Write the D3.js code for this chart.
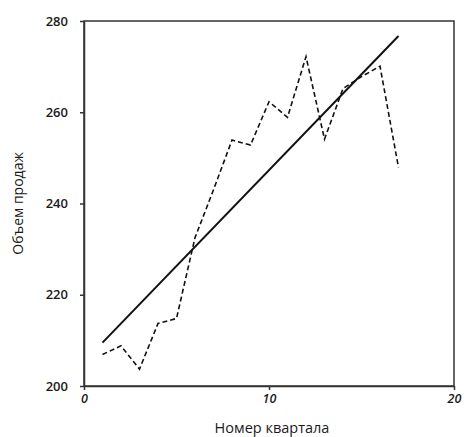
<!DOCTYPE html>
<html>
<head>
<meta charset="utf-8">
<script src="https://cdn.jsdelivr.net/npm/d3@7"></script>
<style>
  body { margin: 0; background: #fff; }
  text { font-family: "Open Sans", sans-serif; fill: #1a1a1a; }
</style>
</head>
<body>
<div id="chart"></div>
<script>
// quarterly sales (dashed) and the linear trend (solid)
var quarters = [1, 2, 3, 4, 5, 6, 7, 8, 9, 10, 11, 12, 13, 14, 15, 16, 17];
var sales = [206.9, 208.8, 203.7, 213.7, 214.8, 232.5, 243, 253.9, 252.8, 262.3, 258.9, 272.2, 254.1, 265.2, 267.8, 270.1, 247.9];
var trendQuarters = [1, 17];
var trendValues = [209.5, 276.7];
var xTicks = [0, 10, 20];
var yTicks = [200, 220, 240, 260, 280];

var margin = {top: 21, right: 10, bottom: 51, left: 84},
    width = 464 - margin.left - margin.right,
    height = 437 - margin.top - margin.bottom;

var svg = d3.select("#chart")
  .append("svg")
    .attr("width", 464)
    .attr("height", 437)
  .append("g")
    .attr("transform", "translate(" + margin.left + "," + margin.top + ")");

var x = d3.scaleLinear().domain([0, 20]).range([0, width]);
var y = d3.scaleLinear().domain([200, 280]).range([height, 0]);

// frame (top and right)
svg.append("rect")
  .attr("x", 0).attr("y", 0)
  .attr("width", width).attr("height", height)
  .attr("fill", "none")
  .attr("stroke", "#333")
  .attr("stroke-width", 1.5);

var xAxis = svg.append("g")
  .attr("transform", "translate(0," + height + ")")
  .call(d3.axisBottom(x).tickValues(xTicks).tickSize(4).tickSizeOuter(0).tickPadding(4));
xAxis.selectAll("text")
  .style("font-size", "12.5px")
  .style("font-weight", "600")
  .style("font-style", "italic");

var yAxis = svg.append("g")
  .call(d3.axisLeft(y).tickValues(yTicks).tickSize(4).tickSizeOuter(0).tickPadding(12));
yAxis.selectAll("text")
  .style("font-size", "13px")
  .style("font-weight", "600");

svg.selectAll(".domain, .tick line")
  .attr("stroke", "#333")
  .attr("stroke-width", 1.5);

// axis titles
svg.append("text")
  .attr("x", width / 2 + 3)
  .attr("y", height + 47)
  .style("text-anchor", "middle")
  .style("font-size", "14.5px")
  .text("Номер квартала");

svg.append("text")
  .attr("transform", "rotate(-90)")
  .attr("x", -height / 2)
  .attr("y", -61)
  .style("text-anchor", "middle")
  .style("font-size", "14px")
  .text("Объем продаж");

var line = d3.line()
  .x(function(d) { return x(d[0]); })
  .y(function(d) { return y(d[1]); });

// trend line
svg.append("path")
  .datum(d3.zip(trendQuarters, trendValues))
  .attr("d", line)
  .attr("fill", "none")
  .attr("stroke", "#111")
  .attr("stroke-width", 2);

// actual sales
svg.append("path")
  .datum(d3.zip(quarters, sales))
  .attr("d", line)
  .attr("fill", "none")
  .attr("stroke", "#111")
  .attr("stroke-width", 1.6)
  .attr("stroke-dasharray", "5,3");
</script>
</body>
</html>
